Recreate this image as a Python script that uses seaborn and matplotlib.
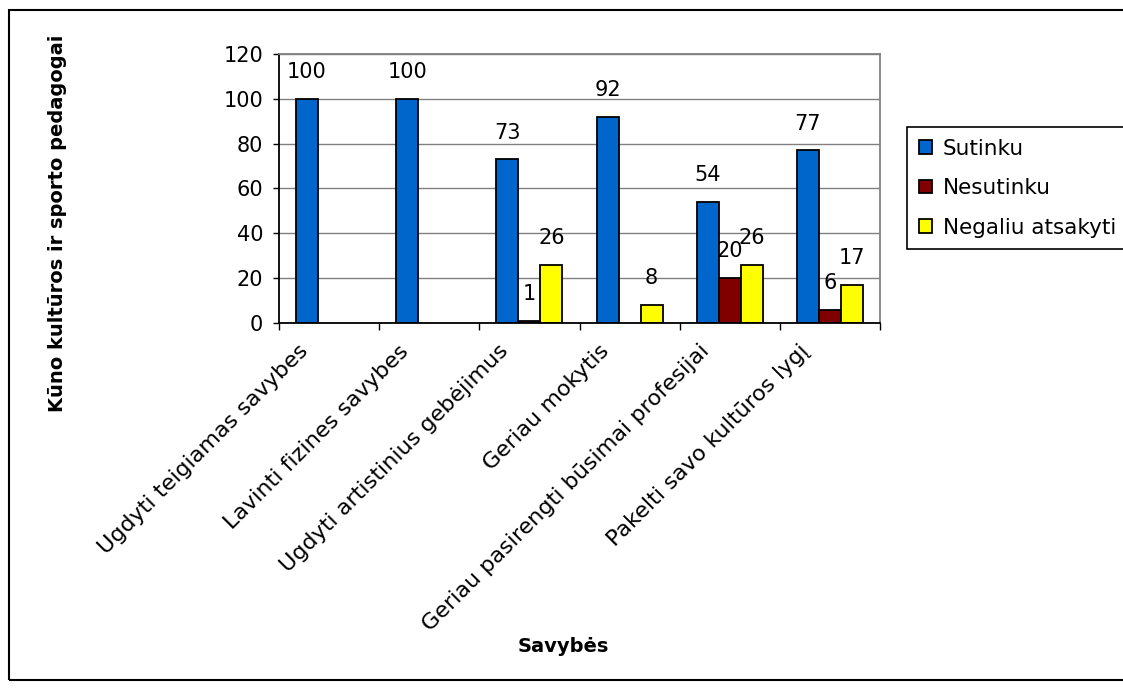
import numpy as np
import pandas as pd
import matplotlib
matplotlib.use("Agg")
import matplotlib.pyplot as plt
import matplotlib.transforms as mtransforms
from matplotlib.patches import Rectangle
import seaborn as sns

# Survey answers (percent) of physical education and sport teachers
categories = [
    "Ugdyti teigiamas savybes",
    "Lavinti fizines savybes",
    "Ugdyti artistinius gebėjimus",
    "Geriau mokytis",
    "Geriau pasirengti būsimai profesijai",
    "Pakelti savo kultūros lygį",
]
series_names = ["Sutinku", "Nesutinku", "Negaliu atsakyti"]
sutinku = [100, 100, 73, 92, 54, 77]
nesutinku = [None, None, 1, None, 20, 6]
negaliu = [None, None, 26, 8, 26, 17]
y_ticks = [0, 20, 40, 60, 80, 100, 120]
colors = ["#0066CC", "#800000", "#FFFF00"]

rows = []
for name, vals in zip(series_names, [sutinku, nesutinku, negaliu]):
    for cat, v in zip(categories, vals):
        rows.append({"Savybė": cat, "Atsakymas": name,
                     "Reikšmė": np.nan if v is None else v})
df = pd.DataFrame(rows)

sns.set_theme(style="white")
plt.rcParams["font.family"] = ["DejaVu Sans"]
plt.rcParams.update({"text.color": "black", "axes.labelcolor": "black",
                     "xtick.color": "black", "ytick.color": "black"})

W, H = 1123, 689
fig = plt.figure(figsize=(W / 100, H / 100), dpi=100)
fig.patch.set_facecolor("white")
ax = fig.add_axes([279 / W, 1 - 323 / H, (880 - 279) / W, (323 - 54) / H])

sns.barplot(data=df, x="Savybė", y="Reikšmė", hue="Atsakymas",
            order=categories, hue_order=series_names, palette=colors,
            width=0.66, edgecolor="black", linewidth=1.3, saturation=1,
            errorbar=None, ax=ax)

# value labels above the bars
for cont in ax.containers:
    ax.bar_label(cont, fmt="%g", padding=12, fontsize=15, color="black")

ax.set_ylim(0, 120)
ax.set_xlim(-0.5, len(categories) - 0.5)
ax.set_yticks(y_ticks)
ax.set_xlabel("")
ax.set_ylabel("")

ax.yaxis.grid(True, color="#808080", linewidth=1)
ax.xaxis.grid(False)
ax.set_axisbelow(True)

for side in ["left", "bottom"]:
    ax.spines[side].set_color("black")
    ax.spines[side].set_linewidth(1.3)
for side in ["top", "right"]:
    ax.spines[side].set_color("#808080")
    ax.spines[side].set_linewidth(1.3)

ax.tick_params(axis="y", which="major", direction="out", length=4.5, width=1,
               color="black", pad=7, labelsize=15, left=True,
               labelcolor="black")
ax.set_xticks(np.arange(-0.5, len(categories)), minor=True)
ax.tick_params(axis="x", which="minor", direction="out", length=5, width=1,
               color="black", bottom=True)
ax.tick_params(axis="x", which="major", length=0, pad=18, labelsize=16,
               labelcolor="black")

shift = mtransforms.ScaledTranslation(-24 / 100, 0, fig.dpi_scale_trans)
for lbl in ax.get_xticklabels():
    lbl.set_rotation(45)
    lbl.set_ha("right")
    lbl.set_va("center")
    lbl.set_rotation_mode("anchor")
    lbl.set_transform(lbl.get_transform() + shift)

# legend on the right, partly running off the figure edge
handles, labels = ax.get_legend_handles_labels()
leg = ax.legend(handles, labels, loc="upper left",
                bbox_to_anchor=(907 / W, 1 - 127 / H),
                bbox_transform=fig.transFigure,
                fontsize=15.5, frameon=True, fancybox=False, framealpha=1,
                edgecolor="black", handlelength=0.6, handleheight=0.6,
                handletextpad=0.5, labelspacing=0.9, borderpad=0.55,
                borderaxespad=0, labelcolor="black")
leg.get_frame().set_linewidth(1.2)

fig.text(58 / W, 1 - 223 / H, "Kūno kultūros ir sporto pedagogai",
         rotation=90, ha="center", va="center", fontsize=14,
         fontweight="bold", color="black")
fig.text(563 / W, 1 - 647 / H, "Savybės", ha="center", va="center",
         fontsize=14, fontweight="bold", color="black")

# outer chart frame
fig.add_artist(Rectangle((9 / W, 1 - 680 / H), 1.2, (680 - 10) / H,
                         transform=fig.transFigure, fill=False,
                         edgecolor="black", linewidth=1.5))

fig.savefig("out.png", dpi=100)
